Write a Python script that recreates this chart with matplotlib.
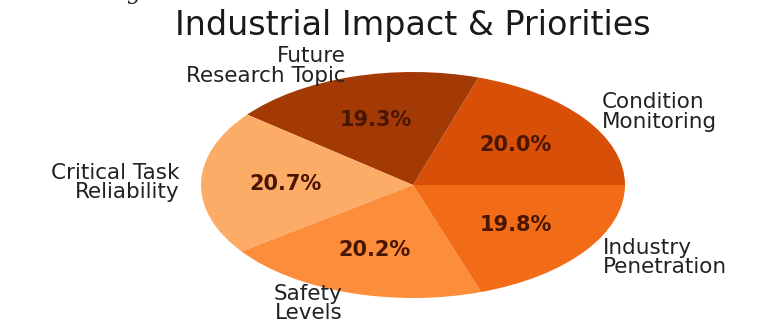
import matplotlib
matplotlib.use('Agg')
import matplotlib.pyplot as plt

labels = ['Condition\nMonitoring', 'Future\nResearch Topic', 'Critical Task\nReliability',
          'Safety\nLevels', 'Industry\nPenetration']
shares = [20.0, 19.3, 20.7, 20.2, 19.8]
colors = ['#d84f07', '#a33a06', '#fdac68', '#fc8d3a', '#f26c18']

fig = plt.figure(figsize=(7.6, 3.25), dpi=100)
ax = fig.add_axes([201 / 760, 27 / 325, 424 / 760, 226 / 325])

wedges, texts, autotexts = ax.pie(shares, labels=labels, colors=colors,
                                  autopct='%1.1f%%', startangle=0,
                                  textprops={'fontsize': 15.5, 'color': '#222222'})
for t in texts:
    t.set_linespacing(0.95)
for t in autotexts:
    t.set_fontsize(15)
    t.set_color('#4a1604')
    t.set_fontweight('bold')

# let the pie stretch to the axes box
ax.set_aspect('auto')
ax.set_xlim(-1, 1)
ax.set_ylim(-1, 1)

fig.text(413 / 760, 1 - 35 / 325, 'Industrial Impact & Priorities',
         ha='center', va='baseline', fontsize=24, color='#1a1a1a')
fig.text(133 / 760, 1 + 1 / 325, 'g', ha='center', va='baseline', fontsize=16,
         family='serif', style='italic', color='#222222')

fig.savefig('out.png', dpi=100)
